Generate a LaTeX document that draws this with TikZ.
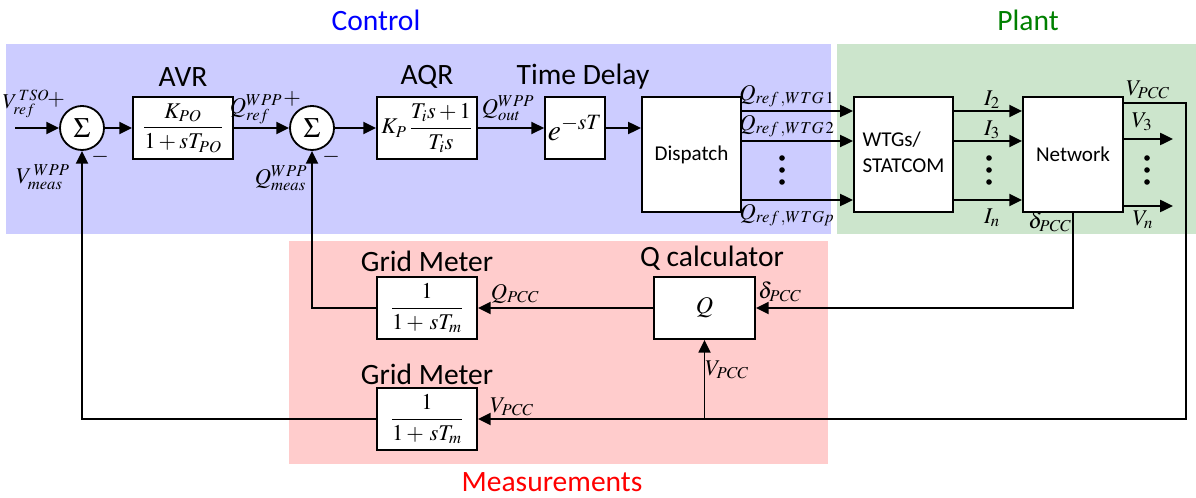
\documentclass[tikz,border=0pt]{standalone}
\usepackage{amsmath}
\usepackage{mathptmx}
\usepackage[no-math]{fontspec}
\setmainfont{Carlito}
\usetikzlibrary{arrows.meta,positioning,calc}
\definecolor{ctrlBlue}{HTML}{CCCCFF}
\definecolor{plantGreen}{HTML}{CCE5CC}
\definecolor{measPink}{HTML}{FFCCCC}
\definecolor{titleGreen}{HTML}{008000}

\tikzset{
  blk/.style={draw,line width=1.3pt,fill=white,inner sep=2pt,
    minimum width=2.5cm,minimum height=1.55cm,font=\fontsize{16}{19}\selectfont},
  tallblk/.style={blk,minimum width=2.48cm,minimum height=2.875cm,
    font=\fontsize{15}{18}\selectfont},
  sumnode/.style={draw,circle,line width=1.3pt,fill=white,minimum size=1.1cm,
    inner sep=0pt,font=\fontsize{20}{20}\selectfont},
  sig/.style={line width=1.3pt,-{Triangle[length=3.2mm,width=3mm]}},
  hdr/.style={font=\fontsize{21}{24}\selectfont},
  lbl/.style={font=\fontsize{16}{19}\selectfont,inner sep=0pt},
}

\begin{document}
\begin{tikzpicture}[x=0.025cm,y=-0.025cm]
\useasboundingbox (0,0) rectangle (1196,498);

% regions
\fill[ctrlBlue] (6,44) rectangle (831,234);
\fill[plantGreen] (837,44) rectangle (1196,234);
\fill[measPink] (289,241) rectangle (828,464);
\node[hdr,text=blue] (tctrl) at (376,20) {Control};
\node[hdr,text=titleGreen] (tplant) at (1028,20) {Plant};
\node[hdr,text=red] (tmeas) at (552,482) {Measurements};

% control loop
\coordinate (vin) at (15,128);
\node[sumnode] (sum1) at (82,128) {$\Sigma$};
\node[blk] (avr) at (183,128) {$\dfrac{K_{PO}}{1+sT_{PO}}$};
\node[sumnode] (sum2) at (312,128) {$\Sigma$};
\node[blk] (aqr) at (427,128) {$K_{P}\,\dfrac{T_i s+1}{T_i s}$};
\node[blk,minimum width=1.4cm] (delay) at (575,128) {\fontsize{21}{21}\selectfont$e^{-sT}$};
\node[tallblk] (disp) at (691.5,154.5) {Dispatch};
\node[tallblk] (wtg) at (903.5,154.5) {\begin{tabular}{@{}l@{}}WTGs/\\STATCOM\end{tabular}};
\node[tallblk,minimum width=2.5cm] (net) at (1073,154.5) {Network};

\node[hdr] (havr) at (183,77) {AVR};
\node[hdr] (haqr) at (427,77) {AQR};
\node[hdr] (hdelay) at (583,77) {Time Delay};

% measurements
\node[blk,minimum width=2.525cm] (qcalc) at (704.5,308) {\fontsize{17}{20}\selectfont$Q$};
\node[blk] (meter1) at (427,308) {$\dfrac{1}{1+\,sT_{m}}$};
\node[blk] (meter2) at (427,419) {$\dfrac{1}{1+\,sT_{m}}$};
\node[hdr] (hqcalc) at (712,258) {Q calculator};
\node[hdr] (hmeter1) at (427,261) {Grid Meter};
\node[hdr] (hmeter2) at (427,374) {Grid Meter};

% row levels
\coordinate (r1) at (0,111);
\coordinate (r2) at (0,141);
\coordinate (r3) at (0,200);
\coordinate (vpcc) at (0,103);
\coordinate (v3end) at (1173,139);
\coordinate (vnend) at (1173,206);
\coordinate (rc) at (1186,419);

% connectors
\draw[sig] (vin) -- (sum1.west);
\draw[sig] (sum1) -- (avr);
\draw[sig] (avr) -- (sum2);
\draw[sig] (sum2) -- (aqr);
\draw[sig] (aqr) -- (delay);
\draw[sig] (delay.east) -- (delay.east -| disp.west);
\foreach \r in {r1,r2,r3}{
  \draw[sig] (disp.east |- \r) -- (wtg.west |- \r);
  \draw[sig] (wtg.east |- \r) -- (net.west |- \r);
}
\draw[sig] (net.east |- v3end) -- (v3end);
\draw[sig] (net.east |- vnend) -- (vnend);
\draw[sig] (net.east |- vpcc) -| (rc) -- (meter2.east);
\draw[sig] (qcalc.south |- meter2.east) -- (qcalc.south);
\draw[sig] (net.south) |- (qcalc.east);
\draw[sig] (qcalc.west) -- (meter1.east);
\draw[sig] (meter1.west) -| (sum2.south);
\draw[sig] (meter2.west) -| (sum1.south);

% dots
\foreach \dx in {782,989,1147}
  \foreach \dy in {158,170,182}
    \fill (\dx,\dy) circle (0.07cm);

% signal labels
\node[lbl,font=\fontsize{15}{18}\selectfont] (lvref) at (26,104) {$V_{ref}^{\,TSO}$};
\node[lbl] (lp1) at (56,100) {$+$};
\node[lbl] (lm1) at (100,157) {$-$};
\node[lbl] (lvmeas) at (43,177) {$V_{meas}^{\,WPP}$};
\node[lbl] (lqref) at (256,109) {$Q_{ref}^{WPP}$};
\node[lbl] (lp2) at (292,99) {$+$};
\node[lbl] (lm2) at (331,157) {$-$};
\node[lbl] (lqmeas) at (281,178) {$Q_{meas}^{WPP}$};
\node[lbl] (lqout) at (508,108) {$Q_{out}^{WPP}$};
\node[lbl] (lw1) at (787,96) {$Q_{ref\,,WTG\,1}$};
\node[lbl] (lw2) at (787,126) {$Q_{ref\,,WTG\,2}$};
\node[lbl] (lwp) at (787,215) {$Q_{ref\,,WTGp}$};
\node[lbl] (li2) at (992,100) {$I_{2}$};
\node[lbl] (li3) at (992,130) {$I_{3}$};
\node[lbl] (lin) at (992,218) {$I_{n}$};
\node[lbl] (lvpcc) at (1148,90) {$V_{PCC}$};
\node[lbl] (lv3) at (1142,122) {$V_{3}$};
\node[lbl] (lvn) at (1143,220) {$V_{n}$};
\node[lbl] (ldelta) at (1050,222) {$\delta_{PCC}$};
\node[lbl] (lqpcc) at (515,294) {$Q_{PCC}$};
\node[lbl] (ldeltaq) at (780,292) {$\delta_{PCC}$};
\node[lbl] (lvpccv) at (727,370) {$V_{PCC}$};
\node[lbl] (lvpccb) at (512,407) {$V_{PCC}$};
\end{tikzpicture}
\end{document}
